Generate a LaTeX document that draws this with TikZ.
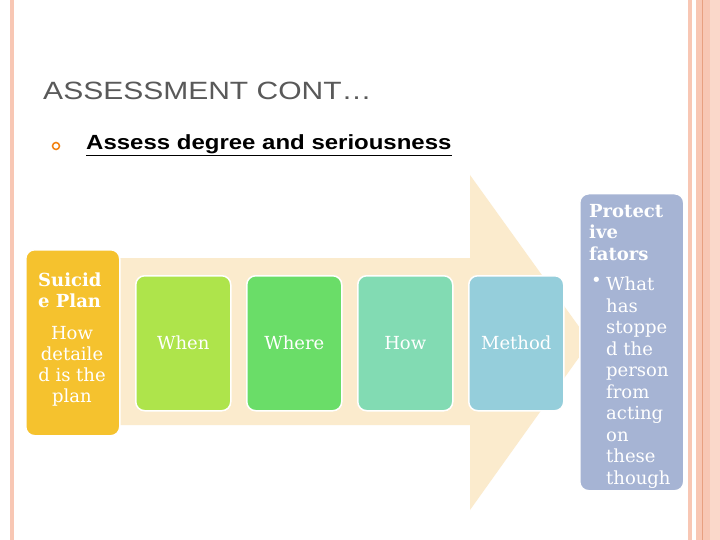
\documentclass[tikz,border=0pt]{standalone}
\usepackage{fontspec}
\setmainfont{DejaVu Serif}
\newfontfamily\arialf{Liberation Sans}
\definecolor{beige}{HTML}{FBEBCD}
\definecolor{cyel}{HTML}{F5C22E}
\definecolor{cgr1}{HTML}{AEE44B}
\definecolor{cgr2}{HTML}{6ADD68}
\definecolor{cgr3}{HTML}{82DBB3}
\definecolor{cblu}{HTML}{95CEDB}
\definecolor{cpro}{HTML}{A6B4D4}
\definecolor{pk}{HTML}{F8C7B4}
\definecolor{pkd}{HTML}{E8A080}
\definecolor{ttl}{HTML}{595959}
\begin{document}
\begin{tikzpicture}[x=1pt,y=-1pt,
  box/.style={draw=white,line width=1.5pt,rounded corners=9pt,inner sep=0pt,text=white,align=center,anchor=north west},
  lbl/.style={text=white,font=\fontsize{18}{21}\selectfont,align=left,inner sep=0pt}]
\useasboundingbox (0,0) rectangle (720,540);
\fill[white] (0,0) rectangle (720,540);
\fill[pk] (10,0) rectangle (14,540);
\fill[pk] (688,0) rectangle (692,540);
\fill[pk] (696,0) rectangle (720,540);
\fill[pk!70] (710,0) rectangle (720,540);
\draw[pkd,line width=0.8pt] (702.5,0) -- (702.5,540);
\node[anchor=west,text=ttl,font=\arialf\fontsize{25}{27}\selectfont,inner sep=0pt,xscale=1.2] (title) at (43,91) {ASSESSMENT CONT…};
\node[draw=orange!80!brown,line width=1.5pt,circle,minimum size=7pt,inner sep=0pt] (bul) at (56,146) {};
\node[anchor=west,font=\arialf\bfseries\fontsize{20.5}{22}\selectfont,inner sep=0pt,xscale=1.17] (sub) at (86,145) {\underline{Assess degree and seriousness}};
\fill[beige] (115,258) -- (470,258) -- (470,175) -- (590,342) -- (470,510) -- (470,425) -- (115,425) -- cycle;
\node[box,fill=cyel,minimum width=94pt,minimum height=186pt] (plan) at (25,249) {};
\node[lbl,anchor=north west,font=\bfseries\fontsize{18}{21}\selectfont] (pt) at (38,273) {Suicid\\e Plan};
\node[lbl,anchor=north,align=center] (pb) at (72,326) {How\\detaile\\d is the\\plan};
\node[box,fill=cgr1,minimum width=95pt,minimum height=135pt] (when) at (135,275) {};
\node[lbl] at (when.center) {When};
\node[box,fill=cgr2,minimum width=95pt,minimum height=135pt] (where) at (246,275) {};
\node[lbl] at (where.center) {Where};
\node[box,fill=cgr3,minimum width=95pt,minimum height=135pt] (how) at (357,275) {};
\node[lbl] at (how.center) {How};
\node[box,fill=cblu,minimum width=95pt,minimum height=135pt] (meth) at (468,275) {};
\node[lbl] at (meth.center) {Method};
\node[box,fill=cpro,minimum width=104pt,minimum height=297pt] (prot) at (579,193) {};
\node[lbl,anchor=north west,font=\bfseries\fontsize{18}{21.5}\selectfont] (prt) at (589,204) {Protect\\ive\\fators};
\node[lbl,anchor=north west] (pbul) at (591,277) {•};
\node[lbl,anchor=north west,font=\fontsize{18}{21.5}\selectfont] (ptx) at (606,277) {What\\has\\stoppe\\d the\\person\\from\\acting\\on\\these\\though};
\end{tikzpicture}
\end{document}
